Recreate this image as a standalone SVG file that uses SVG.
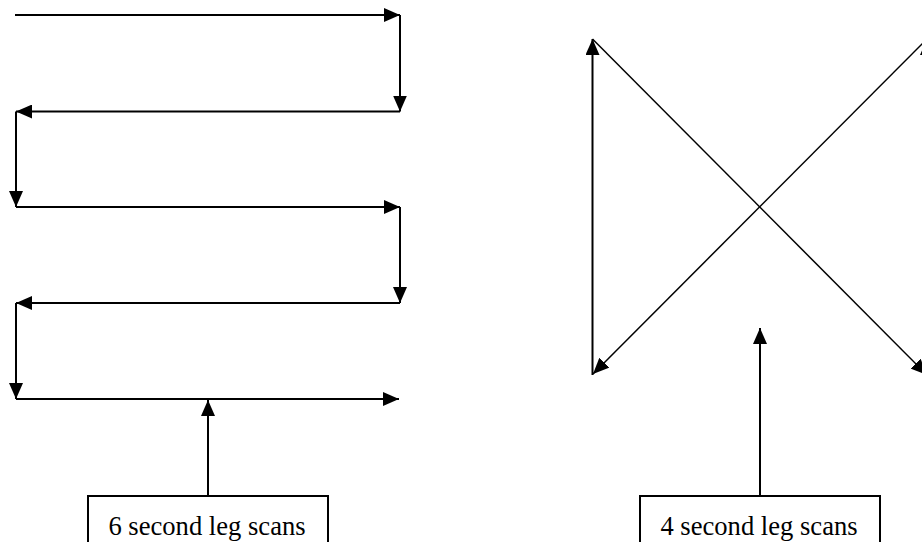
<svg xmlns="http://www.w3.org/2000/svg" width="922" height="542" viewBox="0 0 922 542">
  <style>
    .c { stroke: #000; stroke-width: 2; fill: none; marker-end: url(#ah); }
    .d { stroke: #000; stroke-width: 1.5; fill: none; marker-end: url(#ah); }
    .box { fill: #fff; stroke: #000; stroke-width: 2; }
    .lbl { font-family: "Liberation Serif", "Times New Roman", serif; font-size: 26.6px; fill: #000; text-anchor: middle; }
  </style>
  <defs>
    <marker id="ah" markerUnits="userSpaceOnUse" markerWidth="16" markerHeight="14" refX="16" refY="7" orient="auto" viewBox="0 0 16 14">
      <path d="M0,0 L16,7 L0,14 z" fill="#000"/>
    </marker>
  </defs>
  <rect width="922" height="542" fill="#fff"/>
  <g id="connectors">
    <line class="c" x1="15" y1="15" x2="400" y2="15"/>
    <line class="c" x1="400" y1="15" x2="400" y2="111.5"/>
    <line class="c" x1="400" y1="111.5" x2="16" y2="111.5"/>
    <line class="c" x1="16" y1="111.5" x2="16" y2="207"/>
    <line class="c" x1="16" y1="207" x2="400" y2="207"/>
    <line class="c" x1="400" y1="207" x2="400" y2="303"/>
    <line class="c" x1="400" y1="303" x2="16" y2="303"/>
    <line class="c" x1="16" y1="303" x2="16" y2="399"/>
    <line class="c" x1="16" y1="399" x2="399" y2="399"/>
    <line class="c" x1="208" y1="496" x2="208" y2="400"/>
    <line class="c" x1="592.5" y1="375" x2="592.5" y2="39"/>
    <line class="d" x1="592.5" y1="39" x2="927" y2="375"/>
    <line class="c" x1="927" y1="375" x2="927" y2="39"/>
    <line class="d" x1="927" y1="39" x2="593" y2="374"/>
    <line class="c" x1="760" y1="496" x2="760" y2="328"/>
  </g>
  <g id="node-6sec">
    <rect class="box" x="88" y="496" width="240" height="60"/>
    <text class="lbl" x="207" y="535">6 second leg scans</text>
  </g>
  <g id="node-4sec">
    <rect class="box" x="640" y="496" width="240" height="60"/>
    <text class="lbl" x="759" y="535">4 second leg scans</text>
  </g>
</svg>
